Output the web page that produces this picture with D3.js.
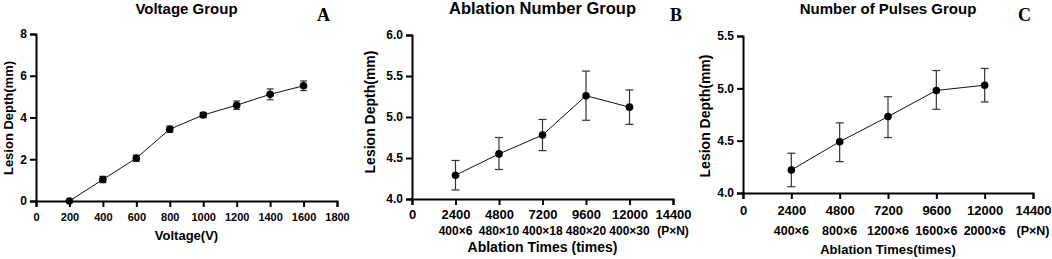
<!DOCTYPE html>
<html><head><meta charset="utf-8">
<script src="https://cdn.jsdelivr.net/npm/d3@7"></script>
<style>body{margin:0;background:#fff}svg{display:block}text{font-family:"Liberation Sans",Arial,sans-serif;font-weight:bold;fill:#000}</style>
</head><body><svg id="c" width="1052" height="259"></svg>
<script>
// Panel A: Voltage group
const voltages = [200, 400, 600, 800, 1000, 1200, 1400, 1600];
const depthA = [0, 1.03, 2.05, 3.44, 4.12, 4.59, 5.11, 5.52];
const errA = [0, 0.15, 0.15, 0.15, 0.12, 0.2, 0.26, 0.23];
const ticksAx = [0, 200, 400, 600, 800, 1000, 1200, 1400, 1600, 1800];
const ticksAy = [0, 2, 4, 6, 8];

// Panel B: Ablation number group
const timesB = [2400, 4800, 7200, 9600, 12000];
const depthB = [4.29, 4.55, 4.78, 5.26, 5.12];
const lowB = [4.11, 4.36, 4.59, 4.96, 4.91];
const highB = [4.47, 4.75, 4.97, 5.56, 5.33];
const ticksBx = [0, 2400, 4800, 7200, 9600, 12000, 14400];
const subB = ["400×6", "480×10", "400×18", "480×20", "400×30", "(P×N)"];
const ticksBy = [4.0, 4.5, 5.0, 5.5, 6.0];

// Panel C: Number of pulses group
const timesC = [2400, 4800, 7200, 9600, 12000];
const depthC = [4.22, 4.49, 4.73, 4.98, 5.03];
const lowC = [4.06, 4.30, 4.53, 4.80, 4.87];
const highC = [4.38, 4.67, 4.92, 5.17, 5.19];
const ticksCx = [0, 2400, 4800, 7200, 9600, 12000, 14400];
const subC = ["400×6", "800×6", "1200×6", "1600×6", "2000×6", "(P×N)"];
const ticksCy = [4.0, 4.5, 5.0, 5.5];

const svg = d3.select("#c");

function panel(o) {
  const g = svg.append("g");
  const x = d3.scaleLinear().domain(o.xd).range([o.x0, o.x1]);
  const y = d3.scaleLinear().domain(o.yd).range([o.y0, o.y1]);
  const ax = g.append("g").attr("transform", `translate(0,${o.y0})`)
    .call(d3.axisBottom(x).tickValues(o.tx).tickSize(6).tickPadding(o.xpad).tickFormat(d3.format("d")));
  const ay = g.append("g").attr("transform", `translate(${o.x0},0)`)
    .call(d3.axisLeft(y).tickValues(o.ty).tickSize(6).tickPadding(3).tickFormat(o.yfmt));
  [ax, ay].forEach(a => {
    a.attr("font-family", null).attr("font-size", null);
    a.select(".domain").attr("stroke", "#000").attr("stroke-width", 2);
    a.selectAll(".tick line").attr("stroke", "#000").attr("stroke-width", 2);
  });
  ax.selectAll("text").style("font-size", o.tfs + "px").attr("fill", "#000");
  ay.selectAll("text").style("font-size", "12px").attr("fill", "#000");
  if (o.sub) {
    g.selectAll(".sub").data(o.sub).join("text")
      .attr("x", (d, i) => x(o.tx[i + 1]))
      .attr("y", o.subY).attr("text-anchor", "middle")
      .style("font-size", o.sfs + "px").text(d => d);
  }
  const pts = o.xs.map((v, i) => [x(v), y(o.ys[i])]);
  g.append("path").attr("d", d3.line()(pts)).attr("fill", "none").attr("stroke", "#111").attr("stroke-width", 1);
  o.xs.forEach((v, i) => {
    const lo = o.lo[i], hi = o.hi[i];
    if (hi - lo <= 0) return;
    const cx = x(v);
    const eg = g.append("g").attr("stroke", "#333").attr("stroke-width", 1.2);
    eg.append("line").attr("x1", cx).attr("x2", cx).attr("y1", y(lo)).attr("y2", y(hi));
    eg.append("line").attr("x1", cx - o.cap).attr("x2", cx + o.cap).attr("y1", y(lo)).attr("y2", y(lo));
    eg.append("line").attr("x1", cx - o.cap).attr("x2", cx + o.cap).attr("y1", y(hi)).attr("y2", y(hi));
  });
  g.selectAll(".pt").data(pts).join("circle").attr("cx", d => d[0]).attr("cy", d => d[1]).attr("r", 3.8).attr("fill", "#000");
  const mid = (o.x0 + o.x1) / 2;
  g.append("text").attr("x", mid).attr("y", 13.5).attr("text-anchor", "middle").style("font-size", o.tifs + "px").text(o.title);
  g.append("text").attr("x", o.lx).attr("y", 21).style("font-family", '"Liberation Serif","Times New Roman",serif').style("font-size", "18px").text(o.letter);
  g.append("text").attr("x", mid).attr("y", o.xlY).attr("text-anchor", "middle").style("font-size", o.xlfs + "px").text(o.xlabel);
  g.append("text").attr("transform", `translate(${o.ylX},${o.ylY}) rotate(-90)`).attr("text-anchor", "middle").style("font-size", o.ylfs + "px").text("Lesion Depth(mm)");
}

panel({
  xd: [0, 1800], yd: [0, 8], x0: 36, x1: 337, y0: 201, y1: 34,
  tx: ticksAx, ty: ticksAy, yfmt: d3.format("d"), tfs: 11, xpad: 6,
  xs: voltages, ys: depthA, lo: depthA.map((d, i) => d - errA[i]), hi: depthA.map((d, i) => d + errA[i]), cap: 3.5,
  title: "Voltage Group", tifs: 15, letter: "A", lx: 317, xlabel: "Voltage(V)", xlY: 240, xlfs: 13, ylX: 13, ylY: 118, ylfs: 13
});
panel({
  xd: [0, 14400], yd: [4, 6], x0: 412, x1: 673, y0: 199, y1: 35,
  tx: ticksBx, ty: ticksBy, yfmt: d3.format(".1f"), tfs: 13, xpad: 4.5,
  sub: subB, subY: 234.5, sfs: 12,
  xs: timesB, ys: depthB, lo: lowB, hi: highB, cap: 4,
  title: "Ablation Number Group", tifs: 16.5, letter: "B", lx: 670, xlabel: "Ablation Times (times)", xlY: 252, xlfs: 14, ylX: 375, ylY: 112, ylfs: 14
});
panel({
  xd: [0, 14400], yd: [4, 5.5], x0: 743, x1: 1033, y0: 193, y1: 36,
  tx: ticksCx, ty: ticksCy, yfmt: d3.format(".1f"), tfs: 13, xpad: 7,
  sub: subC, subY: 235, sfs: 12.5,
  xs: timesC, ys: depthC, lo: lowC, hi: highC, cap: 4,
  title: "Number of Pulses Group", tifs: 15, letter: "C", lx: 1018, xlabel: "Ablation Times(times)", xlY: 254, xlfs: 13, ylX: 710, ylY: 116, ylfs: 14
});
</script></body></html>
